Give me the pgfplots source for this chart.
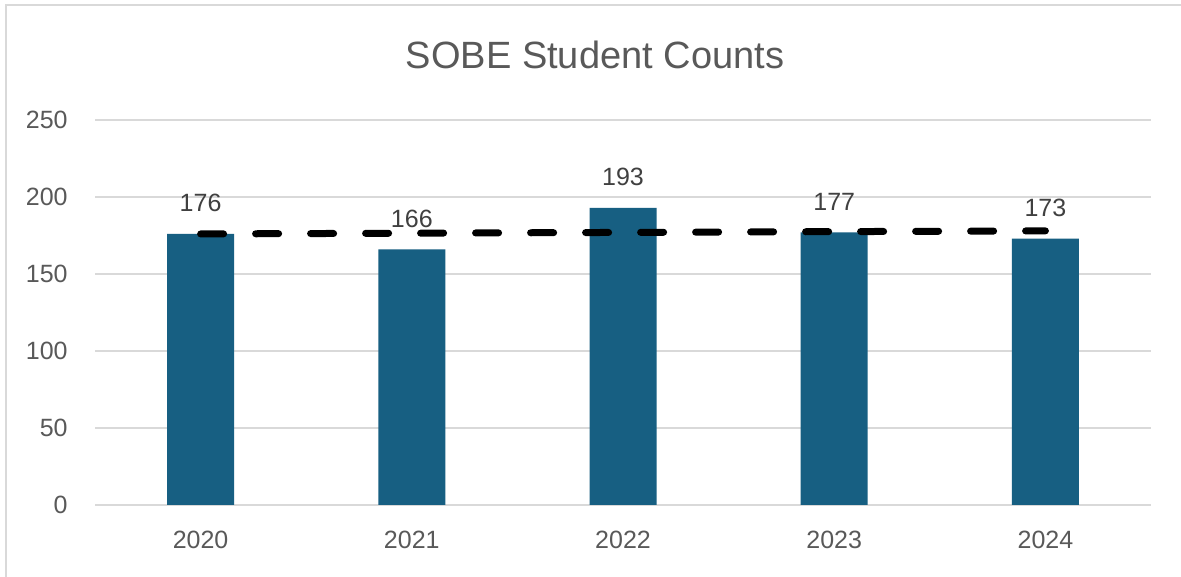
\documentclass[border=0pt]{standalone}
\usepackage{fontspec}
\setmainfont{Liberation Sans}
\usepackage{pgfplots}
\pgfplotsset{compat=1.18}
\definecolor{barblue}{HTML}{175F82}
\definecolor{gridgray}{HTML}{D9D9D9}
\definecolor{txtgray}{HTML}{595959}
\definecolor{lblgray}{HTML}{404040}
\begin{document}
\begin{tikzpicture}[x=1pt,y=1pt]
\path[use as bounding box] (0,0) rectangle (590.5,288.5);
\fill[white] (0,0) rectangle (590.5,288.5);
\draw[gridgray, line width=0.9pt] (3,0) -- (3,286) -- (590.5,286);
\begin{axis}[
  at={(47.5pt,36pt)}, anchor=south west,
  scale only axis, width=528pt, height=192.5pt,
  xmin=-0.5, xmax=4.5, ymin=0, ymax=250,
  ytick={0,50,100,150,200,250},
  xtick={0,1,2,3,4},
  xticklabels={2020,2021,2022,2023,2024},
  axis line style={draw=none},
  major tick length=0pt,
  ymajorgrids,
  grid style={gridgray, line width=0.75pt},
  /pgf/number format/assume math mode=true,
  tick label style={font=\fontsize{12.5}{15}\selectfont, text=txtgray, inner sep=0pt},
  yticklabel style={anchor=east, xshift=-13.5pt},
  xticklabel style={anchor=north, yshift=-13pt},
  clip=false,
]
\addplot[ybar, bar width=33.5pt, fill=barblue, draw=none,
  nodes near coords,
  every node near coord/.append style={font=\fontsize{12.5}{15}\selectfont, text=lblgray, anchor=base, inner sep=0pt, yshift=11pt}]
  coordinates {(0,176) (1,166) (2,193) (3,177) (4,173)};
\addplot[black, line width=3.5pt, line cap=round, dash pattern=on 11.5pt off 16pt, mark=none]
  coordinates {(0,176) (4,178)};
\end{axis}
\node[anchor=base, text=txtgray, font=\fontsize{19}{23}\selectfont] at (297.5,254) {SOBE Student Counts};
\end{tikzpicture}
\end{document}
